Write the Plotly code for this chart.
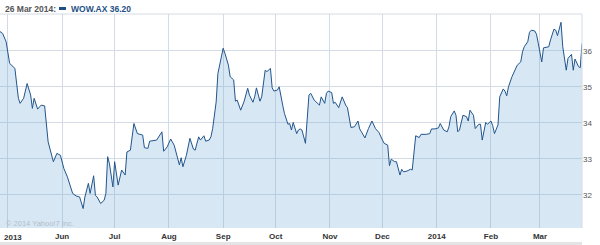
import plotly.graph_objects as go

dates = [
    "2013-04-26", "2013-04-28", "2013-04-30", "2013-05-02", "2013-05-05", "2013-05-07", "2013-05-08",
    "2013-05-10", "2013-05-12", "2013-05-14", "2013-05-15", "2013-05-16", "2013-05-18", "2013-05-20",
    "2013-05-22", "2013-05-24", "2013-05-27", "2013-05-29", "2013-05-31",
    "2013-06-02", "2013-06-04", "2013-06-07", "2013-06-09", "2013-06-11", "2013-06-13", "2013-06-14",
    "2013-06-16", "2013-06-17", "2013-06-19", "2013-06-20", "2013-06-21", "2013-06-23", "2013-06-25",
    "2013-06-26", "2013-06-27", "2013-06-28", "2013-06-30",
    "2013-07-01", "2013-07-03", "2013-07-05", "2013-07-07", "2013-07-08", "2013-07-10", "2013-07-11",
    "2013-07-12", "2013-07-14", "2013-07-17", "2013-07-18", "2013-07-20", "2013-07-21", "2013-07-25",
    "2013-07-28", "2013-07-29", "2013-07-31",
    "2013-08-02", "2013-08-04", "2013-08-07", "2013-08-08", "2013-08-09", "2013-08-11", "2013-08-13",
    "2013-08-15", "2013-08-16", "2013-08-18", "2013-08-19", "2013-08-21", "2013-08-22", "2013-08-24",
    "2013-08-25", "2013-08-26", "2013-08-28", "2013-08-29", "2013-08-30",
    "2013-09-01", "2013-09-02", "2013-09-04", "2013-09-05", "2013-09-07", "2013-09-08", "2013-09-09",
    "2013-09-11", "2013-09-13", "2013-09-15", "2013-09-16", "2013-09-18", "2013-09-19", "2013-09-20",
    "2013-09-22", "2013-09-23", "2013-09-25", "2013-09-26", "2013-09-28", "2013-09-29", "2013-09-30",
    "2013-10-02", "2013-10-03", "2013-10-05", "2013-10-06", "2013-10-08", "2013-10-09", "2013-10-10",
    "2013-10-11", "2013-10-13", "2013-10-14", "2013-10-15", "2013-10-16", "2013-10-18", "2013-10-20",
    "2013-10-21", "2013-10-23", "2013-10-26", "2013-10-27", "2013-10-29", "2013-10-30", "2013-10-31",
    "2013-11-02", "2013-11-03", "2013-11-04", "2013-11-06", "2013-11-08", "2013-11-10", "2013-11-11",
    "2013-11-13", "2013-11-15", "2013-11-17", "2013-11-18", "2013-11-19", "2013-11-21", "2013-11-23",
    "2013-11-25", "2013-11-27", "2013-11-29",
    "2013-12-01", "2013-12-02", "2013-12-04", "2013-12-05", "2013-12-06", "2013-12-08", "2013-12-09",
    "2013-12-11", "2013-12-12", "2013-12-13", "2013-12-15", "2013-12-17", "2013-12-18", "2013-12-19",
    "2013-12-20", "2013-12-22", "2013-12-23", "2013-12-26", "2013-12-28", "2013-12-29", "2013-12-31",
    "2014-01-02", "2014-01-03", "2014-01-05", "2014-01-07", "2014-01-08", "2014-01-09", "2014-01-11",
    "2014-01-12", "2014-01-13", "2014-01-14", "2014-01-16", "2014-01-18", "2014-01-19", "2014-01-20",
    "2014-01-22", "2014-01-23", "2014-01-25", "2014-01-26", "2014-01-27", "2014-01-29", "2014-01-30",
    "2014-02-01", "2014-02-02", "2014-02-03", "2014-02-05", "2014-02-06", "2014-02-08", "2014-02-09",
    "2014-02-10", "2014-02-11", "2014-02-13", "2014-02-15", "2014-02-16", "2014-02-18", "2014-02-19",
    "2014-02-20", "2014-02-22", "2014-02-23", "2014-02-24", "2014-02-26", "2014-02-27", "2014-02-28",
    "2014-03-02", "2014-03-03", "2014-03-04", "2014-03-06", "2014-03-07", "2014-03-09", "2014-03-10",
    "2014-03-11", "2014-03-13", "2014-03-14", "2014-03-16", "2014-03-17", "2014-03-19", "2014-03-20",
    "2014-03-21", "2014-03-23", "2014-03-24", "2014-03-25",
]

prices = [
    36.55, 36.48, 36.25, 35.65, 35.51, 34.68, 34.54,
    34.68, 35.09, 34.77, 34.40, 34.68, 34.38, 34.49,
    34.47, 33.47, 32.92, 33.15, 33.10,
    32.73, 32.50, 32.04, 31.97, 31.94, 31.62, 31.94,
    32.32, 32.04, 32.53, 31.99, 31.94, 31.76, 31.85,
    32.04, 33.06, 32.87, 32.22,
    32.92, 32.27, 32.69, 32.55, 33.19, 33.24, 33.57,
    33.98, 33.70, 33.66, 33.31, 33.29, 33.49, 33.52,
    33.75, 33.21, 33.33,
    33.55, 33.38, 32.83, 33.03, 32.78, 33.10, 33.57,
    33.27, 33.24, 33.61, 33.52, 33.64, 33.49, 33.52,
    33.61, 33.84, 34.58, 35.37, 35.60,
    36.07, 35.93, 35.60, 35.28, 35.19, 34.60, 34.63,
    34.35, 34.60, 34.96, 34.77, 34.57, 34.72, 34.97,
    34.60, 34.72, 35.46, 35.42, 35.51, 34.97, 34.88,
    34.91, 35.00, 34.49, 34.26, 33.96, 33.98, 33.80,
    34.01, 33.70, 33.80, 33.83, 33.80, 33.43, 34.77,
    34.82, 34.63, 34.49, 34.72, 34.54, 34.82, 34.88,
    34.84, 34.54, 34.57, 34.42, 34.72, 34.49, 34.42,
    33.87, 33.89, 34.05, 33.83, 33.75, 33.58, 33.84,
    34.05, 33.84, 33.73,
    33.52, 33.43, 33.38, 32.81, 32.99, 32.92, 32.92,
    32.55, 32.71, 32.64, 32.66, 32.71, 32.69, 33.19,
    33.64, 33.59, 33.68, 33.68, 33.70, 33.83, 33.83,
    33.86, 33.98, 33.80, 33.75, 33.89, 34.17, 34.33,
    34.21, 33.75, 33.80, 34.21, 34.17, 34.05, 34.35,
    34.21, 33.84, 33.96, 33.96, 33.52, 34.01, 33.96,
    34.05, 33.92, 33.70, 33.94, 34.72, 34.94, 34.88,
    34.75, 35.00, 35.28, 35.49, 35.60, 35.69, 35.97,
    36.11, 36.25, 36.51, 36.57, 36.55, 36.46, 36.21,
    35.69, 36.08, 36.09, 36.11, 36.30, 36.60, 36.57,
    36.42, 36.79, 36.11, 35.46, 35.79, 35.90, 35.46,
    35.77, 35.56, 35.53, 36.20,
]

month_ticks = ["2013-05-01", "2013-06-01", "2013-07-01", "2013-08-01", "2013-09-01", "2013-10-01",
               "2013-11-01", "2013-12-01", "2014-01-01", "2014-02-01", "2014-03-01"]
month_labels = ["", "Jun", "Jul", "Aug", "Sep", "Oct", "Nov", "Dec", "2014", "Feb", "Mar"]
first_label = "2013"
price_ticks = [32, 33, 34, 35, 36]

header_date = "26 Mar 2014:"
header_series = "WOW.AX 36.20"
copyright_text = "© 2014 Yahoo!7 Inc."

FONT = "Liberation Sans, Arial, sans-serif"
W, H = 600, 245
ML, MR, MT, MB = 0, 18, 14, 17
PW, PH = W - ML - MR, H - MT - MB


def px_x(px):
    return (px - ML) / PW


def px_y(py):
    return (H - MB - py) / PH


fig = go.Figure()
fig.add_trace(go.Scatter(
    x=dates, y=prices, mode="lines",
    line=dict(color="#22558c", width=1),
    fill="tozeroy", fillcolor="rgba(100,160,210,0.25)",
    hoverinfo="skip", showlegend=False,
))

fig.update_layout(
    width=W, height=H,
    margin=dict(l=ML, r=MR, t=MT, b=MB, pad=0),
    paper_bgcolor="white", plot_bgcolor="white",
    font=dict(family=FONT),
    xaxis=dict(
        type="date",
        range=["2013-04-26 12:00", "2014-03-25"],
        tickmode="array", tickvals=month_ticks, ticktext=month_labels,
        showgrid=True, gridcolor="#d3dce5", gridwidth=1,
        ticks="", zeroline=False, showline=False, ticklabelstandoff=2,
        tickfont=dict(family=FONT, size=8, color="#333333", weight="bold"),
    ),
    yaxis=dict(
        range=[31.08, 37.02], side="right",
        tickmode="array", tickvals=price_ticks,
        showgrid=True, gridcolor="#d3dce5", gridwidth=1,
        ticks="", zeroline=False, showline=False,
        tickfont=dict(family=FONT, size=8, color="#555555"),
    ),
    shapes=[
        dict(type="line", xref="paper", yref="paper", x0=0, x1=1, y0=1, y1=1,
             line=dict(color="#d3dce5", width=1)),
        dict(type="line", xref="paper", yref="paper", x0=1, x1=1, y0=0, y1=1,
             line=dict(color="#d3dce5", width=1)),
        dict(type="rect", xref="paper", yref="paper", x0=px_x(59), x1=px_x(66),
             y0=px_y(10), y1=px_y(7), fillcolor="#1f4f85", line=dict(width=0)),
        dict(type="rect", xref="paper", yref="paper", x0=0, x1=1,
             y0=px_y(245), y1=px_y(242), fillcolor="#e2e4e6", line=dict(width=0)),
    ],
    annotations=[
        dict(text=header_date, xref="paper", yref="paper", x=px_x(3), y=px_y(9),
             xanchor="left", yanchor="middle", showarrow=False,
             font=dict(family=FONT, size=8.5, color="#555555", weight="bold")),
        dict(text=header_series, xref="paper", yref="paper", x=px_x(69), y=px_y(9),
             xanchor="left", yanchor="middle", showarrow=False,
             font=dict(family=FONT, size=8.5, color="#1f4f85", weight="bold")),
        dict(text=copyright_text, xref="paper", yref="paper", x=px_x(4), y=px_y(223),
             xanchor="left", yanchor="middle", showarrow=False,
             font=dict(family=FONT, size=7.5, color="#b3bec8")),
        dict(text=first_label, xref="paper", yref="paper", x=px_x(2), y=px_y(238),
             xanchor="left", yanchor="middle", showarrow=False,
             font=dict(family=FONT, size=8, color="#333333", weight="bold")),
    ],
)

fig.write_html("out.html")
